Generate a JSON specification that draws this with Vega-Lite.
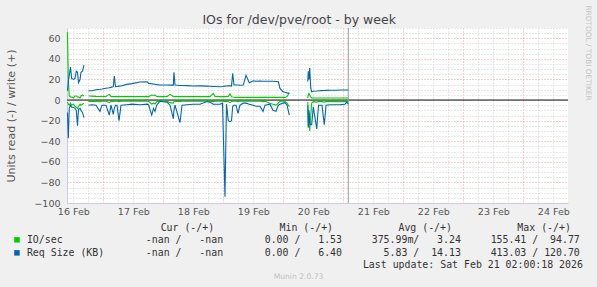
{
  "$schema": "https://vega.github.io/schema/vega-lite/v6.json",
  "width": 501,
  "height": 175,
  "autosize": {"type": "none"},
  "padding": {"left": 67, "top": 28, "right": 29, "bottom": 84},
  "background": "#f0f0f0",
  "config": {
    "view": {"fill": "#ffffff", "stroke": null},
    "axis": {"labelFont": "DejaVu Sans", "titleFont": "DejaVu Sans", "titleFontWeight": "normal"}
  },
  "data": {"values": [
    {"t":0.403,"rs_w":9,"rs_r":-12,"io_w":66,"io_r":-2},
    {"t":0.417,"rs_w":18,"rs_r":-37,"io_w":20,"io_r":-4},
    {"t":0.433,"rs_w":24,"rs_r":-8,"io_w":4,"io_r":-5},
    {"t":0.453,"rs_w":32,"rs_r":-5,"io_w":3,"io_r":-3},
    {"t":0.473,"rs_w":21,"rs_r":-7,"io_w":3,"io_r":-5},
    {"t":0.503,"rs_w":20,"rs_r":-7,"io_w":2,"io_r":-4},
    {"t":0.528,"rs_w":21,"rs_r":-8,"io_w":4,"io_r":-6},
    {"t":0.55,"rs_w":28,"rs_r":-10,"io_w":4,"io_r":-7},
    {"t":0.57,"rs_w":27,"rs_r":-25,"io_w":3,"io_r":-8},
    {"t":0.587,"rs_w":17,"rs_r":-9,"io_w":3,"io_r":-6},
    {"t":0.612,"rs_w":20,"rs_r":-8,"io_w":2,"io_r":-4},
    {"t":0.628,"rs_w":27,"rs_r":-10,"io_w":4,"io_r":-5},
    {"t":0.653,"rs_w":28,"rs_r":-12,"io_w":5,"io_r":-4},
    {"t":0.678,"rs_w":34,"rs_r":-17,"io_w":4,"io_r":-3},
    {"t":0.712,"rs_w":null,"rs_r":null,"io_w":null,"io_r":null},
    {"t":0.753,"rs_w":9,"rs_r":-5,"io_w":3.9,"io_r":-1.5},
    {"t":0.812,"rs_w":9,"rs_r":-4.5,"io_w":3.8,"io_r":-1.3},
    {"t":0.878,"rs_w":10,"rs_r":-5,"io_w":3.6,"io_r":-1.3},
    {"t":0.945,"rs_w":10.5,"rs_r":-11,"io_w":3.5,"io_r":-1.5},
    {"t":0.978,"rs_w":10.8,"rs_r":-5,"io_w":3.4,"io_r":-1.2},
    {"t":1.045,"rs_w":11.5,"rs_r":-5,"io_w":3.4,"io_r":-1.2},
    {"t":1.1,"rs_w":12,"rs_r":-14.6,"io_w":5.5,"io_r":-2.5},
    {"t":1.128,"rs_w":12.3,"rs_r":-5,"io_w":3.4,"io_r":-1.2},
    {"t":1.167,"rs_w":13,"rs_r":-14,"io_w":3.3,"io_r":-1.5},
    {"t":1.183,"rs_w":23.3,"rs_r":-8,"io_w":3.3,"io_r":-1.2},
    {"t":1.203,"rs_w":13,"rs_r":-5,"io_w":3.3,"io_r":-1.2},
    {"t":1.228,"rs_w":13.2,"rs_r":-5,"io_w":3.3,"io_r":-1.2},
    {"t":1.262,"rs_w":13.5,"rs_r":-20,"io_w":3.3,"io_r":-1.5},
    {"t":1.295,"rs_w":13.6,"rs_r":-5,"io_w":3.3,"io_r":-1.2},
    {"t":1.39,"rs_w":15.2,"rs_r":-4.5,"io_w":3.3,"io_r":-1.2},
    {"t":1.478,"rs_w":16,"rs_r":-4,"io_w":3.3,"io_r":-1.2},
    {"t":1.612,"rs_w":17.5,"rs_r":-4.5,"io_w":3.3,"io_r":-1.2},
    {"t":1.733,"rs_w":17.8,"rs_r":-4,"io_w":3.3,"io_r":-1.2},
    {"t":1.753,"rs_w":16.2,"rs_r":-4.5,"io_w":3.3,"io_r":-1.2},
    {"t":1.807,"rs_w":15.8,"rs_r":-14.6,"io_w":4.9,"io_r":-3.9},
    {"t":1.837,"rs_w":15.5,"rs_r":-8,"io_w":4.5,"io_r":-3},
    {"t":1.862,"rs_w":15.3,"rs_r":-11,"io_w":4.9,"io_r":-3.9},
    {"t":1.89,"rs_w":15,"rs_r":-5,"io_w":3.5,"io_r":-1.5},
    {"t":1.945,"rs_w":14.6,"rs_r":-1,"io_w":3.3,"io_r":-0.8},
    {"t":1.995,"rs_w":14.6,"rs_r":-1.5,"io_w":3.3,"io_r":-0.8},
    {"t":2.062,"rs_w":14.6,"rs_r":-2,"io_w":3.3,"io_r":-1},
    {"t":2.112,"rs_w":14.5,"rs_r":-5,"io_w":5.5,"io_r":-2.5},
    {"t":2.167,"rs_w":14.5,"rs_r":-18,"io_w":3.5,"io_r":-3},
    {"t":2.178,"rs_w":27,"rs_r":-10,"io_w":3.3,"io_r":-1.5},
    {"t":2.195,"rs_w":14.6,"rs_r":-5,"io_w":3.3,"io_r":-1.2},
    {"t":2.278,"rs_w":14.2,"rs_r":-22,"io_w":3.3,"io_r":-1.5},
    {"t":2.312,"rs_w":14.2,"rs_r":-5,"io_w":3.3,"io_r":-1.2},
    {"t":2.395,"rs_w":14,"rs_r":-4.5,"io_w":3.3,"io_r":-1.2},
    {"t":2.5,"rs_w":13.6,"rs_r":-4,"io_w":3.3,"io_r":-1.2},
    {"t":2.612,"rs_w":13.8,"rs_r":-4,"io_w":3.3,"io_r":-1.2},
    {"t":2.728,"rs_w":13.5,"rs_r":-1.5,"io_w":3.3,"io_r":-0.8},
    {"t":2.778,"rs_w":13.4,"rs_r":-2,"io_w":3.3,"io_r":-1},
    {"t":2.833,"rs_w":13.2,"rs_r":-4,"io_w":6.5,"io_r":-1.5},
    {"t":2.862,"rs_w":13.2,"rs_r":-4,"io_w":3.5,"io_r":-1.2},
    {"t":2.945,"rs_w":13,"rs_r":-4,"io_w":3.3,"io_r":-1.2},
    {"t":2.987,"rs_w":13.2,"rs_r":-3,"io_w":3.3,"io_r":-1.2},
    {"t":3.028,"rs_w":13.5,"rs_r":-94,"io_w":3.3,"io_r":-1.5},
    {"t":3.053,"rs_w":13.6,"rs_r":-4,"io_w":3.3,"io_r":-1.2},
    {"t":3.083,"rs_w":13.8,"rs_r":-20,"io_w":3.5,"io_r":-1.5},
    {"t":3.112,"rs_w":13.8,"rs_r":-21,"io_w":6,"io_r":-2.5},
    {"t":3.137,"rs_w":13.6,"rs_r":-20,"io_w":3.3,"io_r":-1.5},
    {"t":3.157,"rs_w":26,"rs_r":-6,"io_w":3,"io_r":-1.2},
    {"t":3.178,"rs_w":14.6,"rs_r":-5,"io_w":2.8,"io_r":-1.2},
    {"t":3.212,"rs_w":14.6,"rs_r":-5,"io_w":2.6,"io_r":-1.2},
    {"t":3.245,"rs_w":14.6,"rs_r":-13,"io_w":2.6,"io_r":-1.5},
    {"t":3.278,"rs_w":14.4,"rs_r":-5,"io_w":2.6,"io_r":-1.2},
    {"t":3.333,"rs_w":14.6,"rs_r":-3,"io_w":2.6,"io_r":-1},
    {"t":3.378,"rs_w":24,"rs_r":-3,"io_w":2.6,"io_r":-1},
    {"t":3.433,"rs_w":16.8,"rs_r":-4,"io_w":2.6,"io_r":-1.2},
    {"t":3.5,"rs_w":18.8,"rs_r":-5,"io_w":2.6,"io_r":-1.2},
    {"t":3.545,"rs_w":18.3,"rs_r":-6,"io_w":2.6,"io_r":-1.2},
    {"t":3.612,"rs_w":18.5,"rs_r":-6,"io_w":2.6,"io_r":-1.2},
    {"t":3.662,"rs_w":18.3,"rs_r":-11,"io_w":2.6,"io_r":-1.5},
    {"t":3.695,"rs_w":18.2,"rs_r":-5,"io_w":2.6,"io_r":-1.2},
    {"t":3.778,"rs_w":18.3,"rs_r":-4,"io_w":2.6,"io_r":-3.2},
    {"t":3.828,"rs_w":18.2,"rs_r":-10,"io_w":2.6,"io_r":-4},
    {"t":3.878,"rs_w":18,"rs_r":-11,"io_w":2.6,"io_r":-4.9},
    {"t":3.917,"rs_w":17.8,"rs_r":-5,"io_w":2.6,"io_r":-3},
    {"t":3.945,"rs_w":11.3,"rs_r":-4,"io_w":2.6,"io_r":-1.2},
    {"t":3.995,"rs_w":8.1,"rs_r":-3,"io_w":2.6,"io_r":-1.2},
    {"t":4.028,"rs_w":7.5,"rs_r":-2.5,"io_w":2.6,"io_r":-1.5},
    {"t":4.062,"rs_w":7,"rs_r":-5,"io_w":3.5,"io_r":-3},
    {"t":4.1,"rs_w":6.5,"rs_r":-14.6,"io_w":7,"io_r":-6.5},
    {"t":4.245,"rs_w":null,"rs_r":null,"io_w":null,"io_r":null},
    {"t":4.408,"rs_w":18,"rs_r":-5,"io_w":2,"io_r":-2},
    {"t":4.417,"rs_w":28,"rs_r":-27,"io_w":5,"io_r":-25},
    {"t":4.428,"rs_w":20,"rs_r":-10,"io_w":6.5,"io_r":-12},
    {"t":4.44,"rs_w":31,"rs_r":-22,"io_w":5,"io_r":-30},
    {"t":4.457,"rs_w":12,"rs_r":-24,"io_w":3,"io_r":-15},
    {"t":4.473,"rs_w":8.1,"rs_r":-24,"io_w":2,"io_r":-3},
    {"t":4.5,"rs_w":8.5,"rs_r":-6.5,"io_w":2,"io_r":-1.5},
    {"t":4.557,"rs_w":8.8,"rs_r":-28,"io_w":2,"io_r":-2},
    {"t":4.587,"rs_w":9,"rs_r":-5,"io_w":2,"io_r":-1.5},
    {"t":4.645,"rs_w":9.2,"rs_r":-5,"io_w":2,"io_r":-1.5},
    {"t":4.683,"rs_w":9.3,"rs_r":-24,"io_w":2,"io_r":-2},
    {"t":4.712,"rs_w":9.4,"rs_r":-5,"io_w":2,"io_r":-1.5},
    {"t":4.778,"rs_w":9.5,"rs_r":-4.5,"io_w":2,"io_r":-1.5},
    {"t":4.862,"rs_w":9.6,"rs_r":-4.5,"io_w":2,"io_r":-1.5},
    {"t":4.945,"rs_w":9.7,"rs_r":-4.5,"io_w":2,"io_r":-1.5},
    {"t":5.028,"rs_w":9.7,"rs_r":-4,"io_w":2,"io_r":-1.5},
    {"t":5.057,"rs_w":9.7,"rs_r":-2,"io_w":2,"io_r":-1.5},
    {"t":5.083,"rs_w":9.7,"rs_r":-4,"io_w":2,"io_r":-1.5}
  ]},
  "resolve": {"axis": {"x": "independent", "y": "independent"}},
  "layer": [
    {
      "mark": {"type": "point", "opacity": 0},
      "encoding": {
        "x": {"field": "t", "type": "quantitative",
          "scale": {"domain": [0.395, 8.745], "nice": false, "zero": false},
          "axis": {"orient": "bottom", "values": [0.5,0.75,1.25,1.5,1.75,2.25,2.5,2.75,3.25,3.5,3.75,4.25,4.5,4.75,5.25,5.5,5.75,6.25,6.5,6.75,7.25,7.5,7.75,8.25,8.5],
            "grid": true, "gridColor": "#d2d2d2", "gridDash": [1, 2], "gridWidth": 1,
            "labels": false, "ticks": false, "domain": false,
            "title": "Munin 2.0.73", "titleX": 231, "titleY": 73, "titleAlign": "center", "titleBaseline": "middle", "titleAngle": 0,
            "titleFontSize": 7.6, "titleColor": "#c0c0c0"}},
        "y": {"field": "rs_w", "type": "quantitative",
          "scale": {"domain": [-100, 70], "nice": false, "zero": false},
          "axis": {"orient": "left", "values": [-95,-90,-85,-75,-70,-65,-55,-50,-45,-35,-30,-25,-15,-10,-5,5,10,15,25,30,35,45,50,55,65,70],
            "grid": true, "gridColor": "#d2d2d2", "gridDash": [1, 2], "gridWidth": 1,
            "labels": false, "ticks": false, "domain": false, "title": null}}
      }
    },
    {
      "mark": {"type": "point", "opacity": 0},
      "encoding": {
        "x": {"field": "t", "type": "quantitative",
          "axis": {"orient": "bottom", "values": [1,2,3,4,5,6,7,8],
            "grid": true, "gridColor": "#f0a0a0", "gridDash": [1, 2], "gridWidth": 1,
            "labels": false, "ticks": false, "domain": false,
            "title": "IOs for /dev/pve/root - by week", "titleX": 231.7, "titleY": -180, "titleAlign": "center", "titleBaseline": "alphabetic", "titleAngle": 0,
            "titleFontSize": 12.5, "titleColor": "#444444"}},
        "y": {"field": "rs_w", "type": "quantitative",
          "axis": {"orient": "left", "values": [-80,-60,-40,-20,20,40,60],
            "grid": true, "gridColor": "#f0a0a0", "gridDash": [1, 2], "gridWidth": 1,
            "labels": false, "ticks": false, "domain": false,
            "title": "RRDTOOL / TOBI OETIKER", "titleX": 520, "titleY": 24.5, "titleAngle": 90, "titleAlign": "center", "titleBaseline": "middle",
            "titleFontSize": 7.4, "titleColor": "#c4c4c4"}}
      }
    },
    {
      "data": {"values": [{"v": 0}]},
      "mark": {"type": "rule", "color": "#000000", "strokeWidth": 1},
      "encoding": {"y": {"field": "v", "type": "quantitative", "axis": null}}
    },
    {
      "data": {"values": [{"t": 5.083}]},
      "mark": {"type": "rule", "color": "#999999", "strokeWidth": 1},
      "encoding": {"x": {"field": "t", "type": "quantitative", "axis": null}}
    },
    {
      "transform": [{"fold": ["io_r", "io_w", "rs_r", "rs_w"], "as": ["key", "value"]}],
      "mark": {"type": "line", "strokeWidth": 1.1},
      "encoding": {
        "x": {"field": "t", "type": "quantitative",
          "axis": {"orient": "bottom", "values": [0.5,1.5,2.5,3.5,4.5,5.5,6.5,7.5,8.5],
            "labelExpr": "['16 Feb','17 Feb','18 Feb','19 Feb','20 Feb','21 Feb','22 Feb','23 Feb','24 Feb'][floor(datum.value)]",
            "grid": false, "ticks": false, "labelPadding": 3, "labelFontSize": 9.5, "labelColor": "#555555",
            "labelFlush": false, "labelOverlap": false, "domain": true, "domainColor": "#c8c8f0",
            "title": "Last update: Sat Feb 21 02:00:18 2026", "titleFont": "DejaVu Sans Mono", "titleFontSize": 9.9, "titleColor": "#333333",
            "titleX": 515.4, "titleY": 61, "titleAlign": "right", "titleBaseline": "middle", "titleAngle": 0}},
        "y": {"field": "value", "type": "quantitative",
          "axis": {"orient": "left", "values": [-100,-80,-60,-40,-20,0,20,40,60],
            "grid": false, "ticks": false, "labelPadding": 7, "labelFontSize": 9.5, "labelColor": "#555555",
            "domain": true, "domainColor": "#c8c8f0",
            "title": "Units read (-) / write (+)", "titleFontSize": 11.1, "titleColor": "#555555",
            "titleX": -56, "titleY": 87.5, "titleAngle": -90, "titleAlign": "center", "titleBaseline": "middle"}},
        "color": {"field": "key", "type": "nominal",
          "scale": {"domain": ["io_r", "io_w", "rs_r", "rs_w"], "range": ["#00cc00", "#00cc00", "#0066b3", "#0066b3"]},
          "legend": {
            "orient": "none", "legendX": -55, "legendY": 195, "direction": "vertical", "padding": 0,
            "values": ["io_w", "rs_w"],
            "labelExpr": "datum.value == 'io_w' ? 'IO/sec\u00a0\u00a0\u00a0\u00a0\u00a0\u00a0\u00a0\u00a0\u00a0\u00a0\u00a0\u00a0\u00a0\u00a0-nan\u00a0/\u00a0\u00a0\u00a0-nan\u00a0\u00a0\u00a0\u00a0\u00a0\u00a0\u00a00.00\u00a0/\u00a0\u00a0\u00a01.53\u00a0\u00a0\u00a0\u00a0\u00a0375.99m/\u00a0\u00a0\u00a03.24\u00a0\u00a0\u00a0\u00a0\u00a0155.41\u00a0/\u00a0\u00a094.77' : 'Req\u00a0Size\u00a0(KB)\u00a0\u00a0\u00a0\u00a0\u00a0\u00a0\u00a0-nan\u00a0/\u00a0\u00a0\u00a0-nan\u00a0\u00a0\u00a0\u00a0\u00a0\u00a0\u00a00.00\u00a0/\u00a0\u00a0\u00a06.40\u00a0\u00a0\u00a0\u00a0\u00a0\u00a0\u00a05.83\u00a0/\u00a0\u00a014.13\u00a0\u00a0\u00a0\u00a0\u00a0413.03\u00a0/\u00a0120.70'",
            "title": "\u200b\u00a0\u00a0\u00a0\u00a0\u00a0\u00a0\u00a0\u00a0\u00a0\u00a0\u00a0\u00a0\u00a0\u00a0\u00a0\u00a0\u00a0\u00a0\u00a0\u00a0\u00a0\u00a0\u00a0\u00a0\u00a0Cur\u00a0(-/+)\u00a0\u00a0\u00a0\u00a0\u00a0\u00a0\u00a0\u00a0\u00a0\u00a0\u00a0Min\u00a0(-/+)\u00a0\u00a0\u00a0\u00a0\u00a0\u00a0\u00a0\u00a0\u00a0\u00a0\u00a0Avg\u00a0(-/+)\u00a0\u00a0\u00a0\u00a0\u00a0\u00a0\u00a0\u00a0\u00a0\u00a0\u00a0Max\u00a0(-/+)",
            "titleFont": "DejaVu Sans Mono", "titleFontSize": 9.9, "titleColor": "#333333", "titleFontWeight": "normal",
            "titleAnchor": "start", "titlePadding": 2, "titleLimit": 1000,
            "labelFont": "DejaVu Sans Mono", "labelFontSize": 9.9, "labelColor": "#333333", "labelLimit": 1000, "labelOffset": 5,
            "symbolType": "square", "symbolSize": 6.25, "symbolStrokeWidth": 3, "symbolOpacity": 1, "rowPadding": -4
          }}
      }
    }
  ]
}
